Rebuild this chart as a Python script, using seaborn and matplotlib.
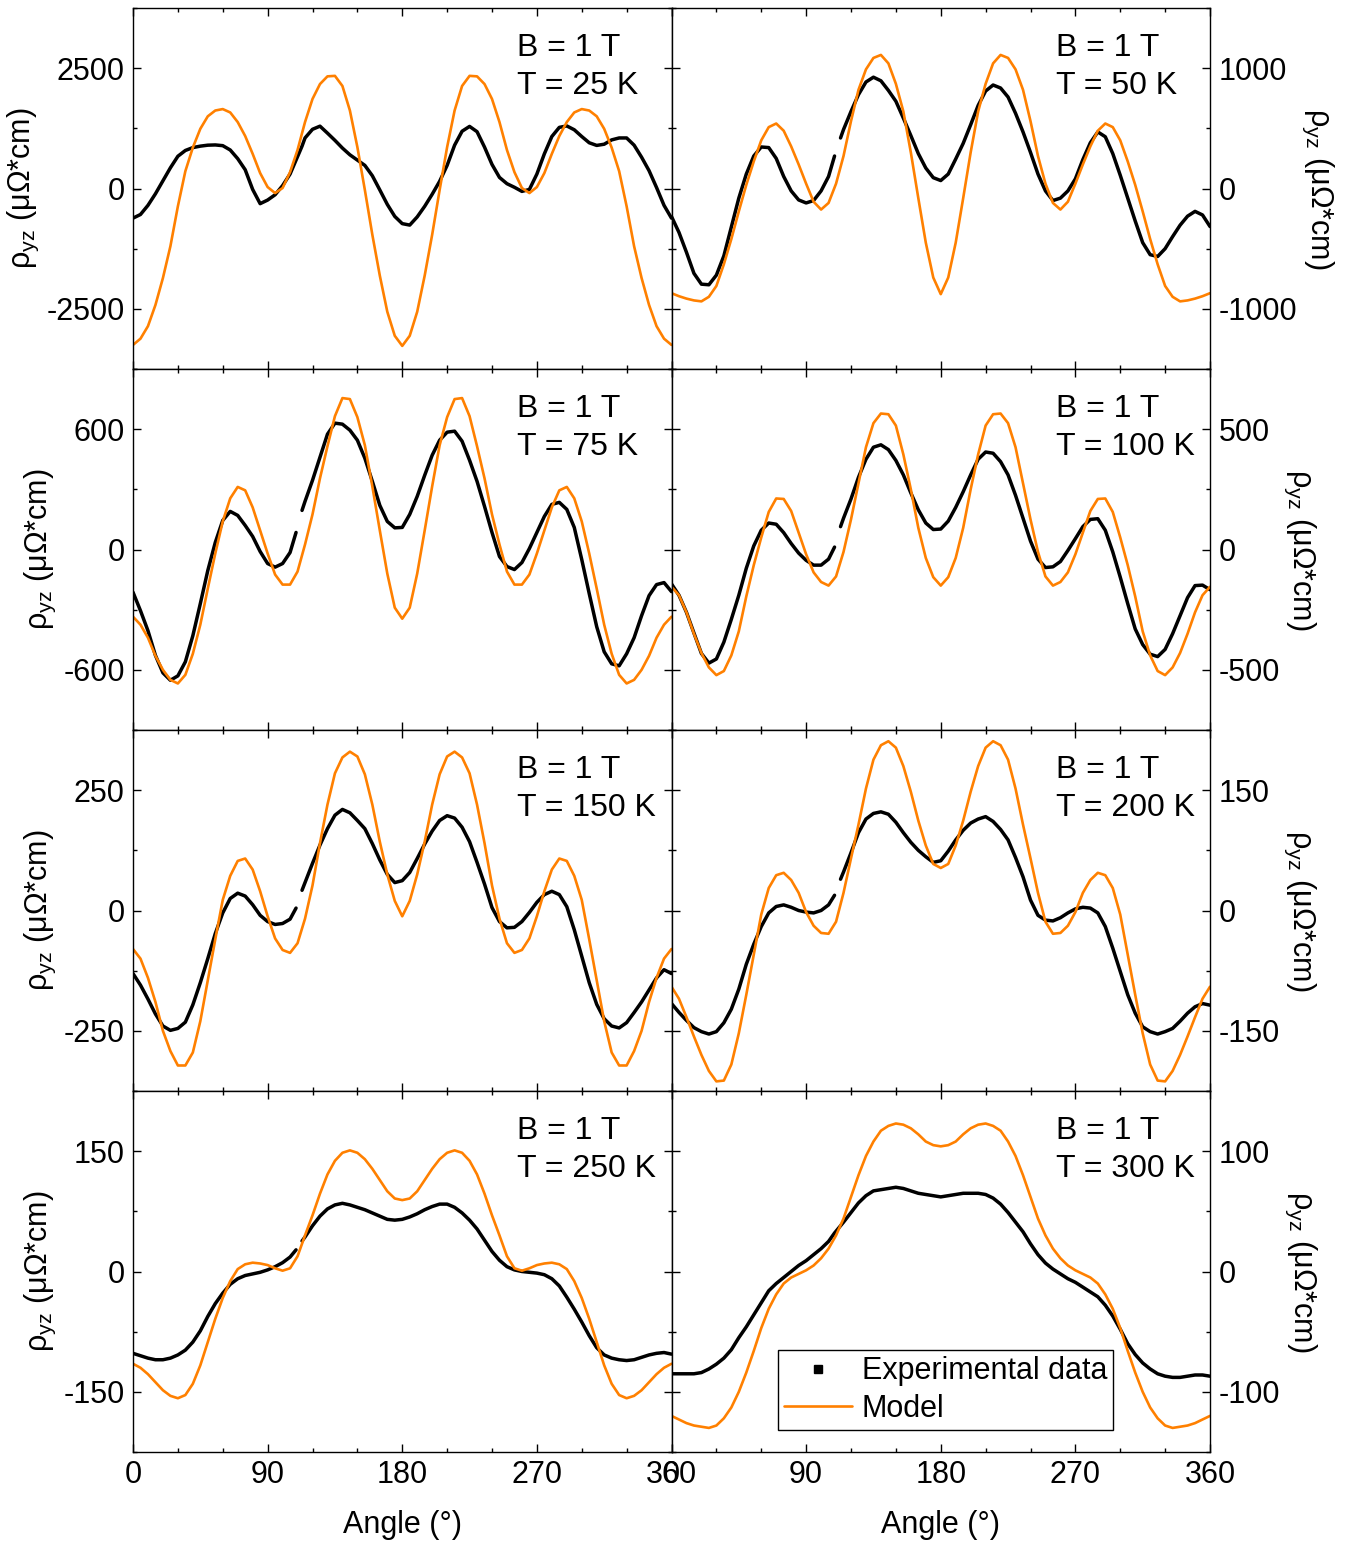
import numpy as np
import pandas as pd
import matplotlib
matplotlib.use("Agg")
import matplotlib.pyplot as plt
from matplotlib.lines import Line2D
from matplotlib.ticker import MultipleLocator
import seaborn as sns

# ---------------------------------------------------------------- data
TEMPS = [25, 50, 75, 100, 150, 200, 250, 300]

# measurement angles (deg); the 111 deg slot marks the gap in the sweep
EXP_ANGLE = list(range(0, 106, 5)) + [109, 111, 113] + list(range(115, 361, 5))
# model evaluation angles (deg)
MODEL_ANGLE = list(range(0, 361, 5))

nan = float("nan")

EXP_25K = [-616, -540, -350, -110, 160, 430, 670, 790, 850, 880, 900, 905, 890, 800, 620, 390, -20, -315, -240, -130, 60, 300,
           590, 734, 880,
           1050, 1230, 1295, 1150, 1000, 840, 700, 590, 480, 265, -30, -330, -580, -730, -760, -590, -370, -120, 150, 480,
           900, 1190, 1290, 1180, 860, 500, 230, 100, 25, -60, -20, 300, 720, 1080, 1270, 1300, 1220, 1080, 950, 895,
           920, 1010, 1050, 1050, 900, 650, 370, 20, -350, -616]
EXP_50K = [-233, -365, -530, -705, -795, -800, -720, -560, -320, -80, 120, 270, 345, 340, 250, 100, -20, -95, -120, -100, -20, 100,
           270, nan, 420,
           490, 640, 780, 885, 925, 895, 815, 725, 585, 440, 290, 170, 90, 66, 120, 245, 375, 530, 690, 810,
           860, 835, 760, 625, 470, 300, 120, -20, -100, -80, -20, 80, 240, 380, 470, 430, 290, 110, -80, -270,
           -450, -550, -565, -500, -400, -305, -230, -190, -220, -316]
EXP_75K = [-213, -305, -405, -528, -615, -652, -630, -560, -430, -270, -105, 35, 145, 190, 170, 120, 65, -10, -70, -88, -70, -15,
           85, nan, 195,
           240, 345, 460, 575, 630, 625, 595, 545, 455, 340, 220, 140, 108, 110, 175, 265, 370, 470, 545, 585,
           590, 540, 445, 340, 215, 85, -35, -85, -100, -65, 5, 85, 165, 225, 235, 200, 110, -50, -220, -385,
           -510, -570, -580, -520, -440, -330, -230, -175, -165, -210]
EXP_100K = [-143, -190, -261, -347, -432, -472, -455, -385, -290, -190, -78, 15, 80, 110, 105, 70, 25, -15, -45, -65, -65, -40,
            10, nan, 95,
            130, 210, 300, 375, 425, 435, 415, 370, 310, 235, 165, 110, 83, 85, 118, 175, 240, 310, 375, 405,
            400, 365, 310, 225, 130, 35, -40, -75, -72, -50, -4, 45, 95, 125, 128, 80, -10, -115, -225, -330,
            -395, -435, -445, -415, -350, -275, -200, -150, -148, -167]
EXP_150K = [-131, -155, -184, -215, -240, -249, -245, -232, -196, -150, -100, -48, -5, 25, 36, 30, 12, -10, -23, -29, -27, -18,
            5, nan, 42,
            58, 98, 136, 170, 198, 210, 203, 187, 170, 139, 105, 75, 58, 62, 79, 108, 138, 165, 187, 197,
            192, 173, 143, 100, 55, 6, -23, -36, -35, -23, -4, 17, 33, 40, 33, 8, -40, -95, -150, -195,
            -225, -240, -244, -233, -212, -190, -165, -140, -123, -131]
EXP_200K = [-116, -127, -137, -146, -151, -154, -151, -140, -123, -98, -67, -42, -20, -3, 5, 7, 4, 0, -2, -3, 0, 7,
            19, nan, 39,
            48, 72, 97, 114, 121, 123, 120, 110, 97, 85, 75, 67, 60, 62, 74, 88, 100, 109, 114, 117,
            111, 101, 88, 66, 42, 13, -6, -12, -13, -9, -3, 2, 4, 3, -3, -20, -47, -76, -105, -128,
            -145, -151, -154, -151, -147, -138, -128, -120, -116, -118]
EXP_250K = [-102, -105, -108, -110, -110, -108, -104, -98, -88, -74, -56, -40, -27, -16, -9, -5, -3, -1, 2, 6, 11, 18,
            27, nan, 38,
            43, 57, 69, 78, 83, 85, 83, 80, 77, 73, 69, 65, 64, 65, 68, 72, 77, 81, 84, 84,
            80, 73, 64, 53, 39, 25, 14, 6, 2, 0, -1, -2, -4, -9, -18, -32, -47, -63, -80, -95,
            -104, -108, -110, -111, -110, -107, -104, -102, -101, -103]
EXP_300K = [-85, -85, -85, -85, -84, -81, -77, -72, -65, -55, -46, -36, -26, -16, -10, -5, 0, 5, 9, 14, 19, 25,
            32, 35, 38,
            41, 49, 57, 63, 67, 68, 69, 70, 69, 67, 65, 64, 63, 62, 63, 64, 65, 65, 65, 64,
            61, 56, 49, 41, 33, 23, 14, 7, 2, -2, -6, -9, -13, -17, -21, -28, -37, -48, -60, -69,
            -76, -81, -85, -87, -88, -88, -87, -86, -86, -87]

MODEL_25K = [-3250, -3120, -2860, -2420, -1860, -1200, -370, 360, 850, 1240, 1500, 1620, 1650, 1580, 1380, 1090, 720, 320,
             30, -95, 10, 340, 800, 1380, 1860, 2170, 2330, 2340, 2130, 1620, 860, -30, -960, -1810, -2560, -3060, -3270,
             -3060, -2560, -1810, -960, -30, 860, 1620, 2130, 2340, 2330, 2170, 1860, 1380, 800, 340, 10, -95, 30,
             320, 720, 1090, 1380, 1580, 1650, 1620, 1500, 1240, 850, 360, -370, -1200, -1860, -2420, -2860, -3120, -3250]
MODEL_50K = [-870, -895, -915, -930, -938, -900, -810, -630, -420, -190, 30, 225, 400, 510, 540, 480, 350, 200,
             40, -110, -175, -120, 40, 270, 560, 820, 990, 1085, 1110, 1040, 870, 640, 300, -80, -450, -740, -878,
             -740, -450, -80, 300, 640, 870, 1040, 1110, 1085, 990, 820, 560, 270, 40, -120, -175, -110, 40,
             200, 350, 480, 540, 510, 400, 225, 30, -190, -420, -630, -810, -900, -938, -930, -915, -895, -870]
MODEL_75K = [-335, -375, -440, -530, -600, -650, -668, -625, -520, -375, -195, -20, 140, 255, 312, 295, 210, 95,
             -20, -125, -175, -175, -110, 25, 175, 355, 515, 665, 755, 750, 660, 520, 315, 95, -120, -290, -345,
             -290, -120, 95, 315, 520, 660, 750, 755, 665, 515, 355, 175, 25, -110, -175, -175, -125, -20,
             95, 210, 295, 312, 255, 140, -20, -195, -375, -520, -625, -668, -650, -600, -530, -440, -375, -335]
MODEL_100K = [-155, -190, -261, -350, -430, -490, -522, -505, -440, -340, -195, -65, 50, 156, 212, 210, 160, 70,
              -20, -95, -135, -150, -112, -10, 125, 275, 425, 525, 565, 562, 515, 395, 250, 90, -35, -115, -150,
              -115, -35, 90, 250, 395, 515, 562, 565, 525, 425, 275, 125, -10, -112, -150, -135, -95, -20,
              70, 160, 210, 212, 156, 50, -65, -195, -340, -440, -505, -522, -490, -430, -350, -261, -190, -155]
MODEL_150K = [-80, -100, -140, -190, -250, -292, -322, -322, -295, -230, -145, -60, 22, 72, 103, 108, 85, 40,
              -12, -58, -82, -88, -68, -17, 52, 140, 220, 285, 318, 330, 320, 283, 220, 143, 75, 20, -12,
              20, 75, 143, 220, 283, 320, 330, 318, 285, 220, 140, 52, -17, -68, -88, -82, -58, -12,
              40, 85, 108, 103, 72, 22, -60, -145, -230, -295, -322, -322, -292, -250, -190, -140, -100, -80]
MODEL_200K = [-95, -110, -133, -157, -180, -200, -213, -212, -192, -153, -105, -55, -5, 28, 44, 47, 38, 22,
              -2, -19, -28, -29, -14, 22, 65, 107, 152, 188, 206, 211, 203, 180, 148, 112, 81, 58, 53,
              58, 81, 112, 148, 180, 203, 211, 206, 188, 152, 107, 65, 22, -14, -29, -28, -19, -2,
              22, 38, 47, 44, 28, -5, -55, -105, -153, -192, -212, -213, -200, -180, -157, -133, -110, -95]
MODEL_250K = [-115, -120, -128, -138, -148, -155, -158, -154, -140, -117, -88, -59, -33, -12, 3, 9, 11, 10,
              8, 4, 1, 4, 19, 45, 70, 97, 121, 138, 148, 151, 148, 140, 128, 114, 100, 91, 89,
              91, 100, 114, 128, 140, 148, 151, 148, 138, 121, 97, 70, 45, 19, 4, 1, 4, 8,
              10, 11, 9, 3, -12, -33, -59, -88, -117, -140, -154, -158, -155, -148, -138, -128, -120, -115]
MODEL_300K = [-120, -123, -126, -128, -129, -130, -128, -122, -113, -100, -84, -66, -47, -31, -19, -10, -5, -2,
              1, 5, 11, 19, 30, 44, 62, 80, 96, 108, 117, 121, 123, 122, 119, 114, 108, 105, 104,
              105, 108, 114, 119, 122, 123, 121, 117, 108, 96, 80, 62, 44, 30, 19, 11, 5, 1,
              -2, -5, -10, -19, -31, -47, -66, -84, -100, -113, -122, -128, -130, -129, -128, -126, -123, -120]

EXP = [EXP_25K, EXP_50K, EXP_75K, EXP_100K, EXP_150K, EXP_200K, EXP_250K, EXP_300K]
MODEL = [MODEL_25K, MODEL_50K, MODEL_75K, MODEL_100K, MODEL_150K, MODEL_200K, MODEL_250K, MODEL_300K]

# ---------------------------------------------------------------- style
YLIM = [3750, 1500, 900, 750, 375, 225, 225, 150]
YSTEP = [2500, 1000, 600, 500, 250, 150, 150, 100]
ORANGE = "#FF8000"
FS = 22

sns.set_theme(style="ticks")
plt.rcParams["font.family"] = ["Liberation Sans", "DejaVu Sans"]
plt.rcParams["mathtext.default"] = "regular"
plt.rcParams["axes.unicode_minus"] = False
for key in ["axes.edgecolor", "axes.labelcolor", "text.color", "xtick.color", "ytick.color"]:
    plt.rcParams[key] = "black"
plt.rcParams["axes.linewidth"] = 1.0

YLABEL = r"ρ$_{yz}$ (μΩ*cm)"

fig, axes = plt.subplots(4, 2, figsize=(13.53, 15.45), dpi=100, sharex=True)
fig.subplots_adjust(left=133 / 1353, right=1210 / 1353, top=1 - 8 / 1545,
                    bottom=1 - 1452 / 1545, wspace=0, hspace=0)

line_kw = dict(solid_joinstyle="round", solid_capstyle="round")

for i, ax in enumerate(axes.flat):
    row, col = divmod(i, 2)
    temp = TEMPS[i]

    # experimental curve, broken where the sweep has no points
    df = pd.DataFrame({"angle": EXP_ANGLE, "rho": EXP[i]})
    df["run"] = df["rho"].isna().cumsum()
    df = df.dropna()
    sns.lineplot(data=df, x="angle", y="rho", units="run", estimator=None,
                 color="black", lw=2.5, ax=ax, legend=False, sort=False, **line_kw)
    # model curve
    sns.lineplot(x=MODEL_ANGLE, y=MODEL[i], color=ORANGE, lw=1.9, ax=ax,
                 legend=False, sort=False, **line_kw)

    ax.set_xlim(0, 360)
    ax.set_ylim(-YLIM[i], YLIM[i])
    ax.xaxis.set_major_locator(MultipleLocator(90))
    ax.xaxis.set_minor_locator(MultipleLocator(30))
    ax.yaxis.set_major_locator(MultipleLocator(YSTEP[i]))
    ax.yaxis.set_minor_locator(MultipleLocator(YSTEP[i] / 2))
    ax.tick_params(which="both", direction="in", top=True, bottom=True,
                   left=True, right=True, width=1.0, labelsize=FS, pad=6)
    ax.tick_params(which="major", length=6)
    ax.tick_params(which="minor", length=3)

    if col == 0:
        ax.tick_params(labelleft=True, labelright=False)
        ax.set_ylabel(YLABEL, fontsize=FS, labelpad=4)
    else:
        ax.tick_params(labelleft=False, labelright=True)
        ax.yaxis.set_label_position("right")
        ax.set_ylabel(YLABEL, fontsize=FS, rotation=270, va="bottom", labelpad=2)

    if row == 3:
        ax.set_xlabel("Angle (°)", fontsize=FS, labelpad=14)
    else:
        ax.set_xlabel("")

    ax.text(0.714, 0.889, "B = 1 T", transform=ax.transAxes, fontsize=FS + 1,
            ha="left", va="center")
    ax.text(0.714, 0.783, f"T = {temp} K", transform=ax.transAxes, fontsize=FS + 1,
            ha="left", va="center")

handles = [Line2D([], [], marker="s", ls="none", color="black", markersize=6),
           Line2D([], [], color=ORANGE, lw=1.9)]
leg = axes[3, 1].legend(handles, ["Experimental data", "Model"], loc="lower left",
                        bbox_to_anchor=(0.197, 0.061), borderaxespad=0, fontsize=FS,
                        frameon=True, fancybox=False, edgecolor="black", framealpha=1,
                        handlelength=2.25, handletextpad=0.3, borderpad=0.2,
                        labelspacing=0.25)
leg.get_frame().set_linewidth(1.0)

fig.savefig("out.png", dpi=100)
